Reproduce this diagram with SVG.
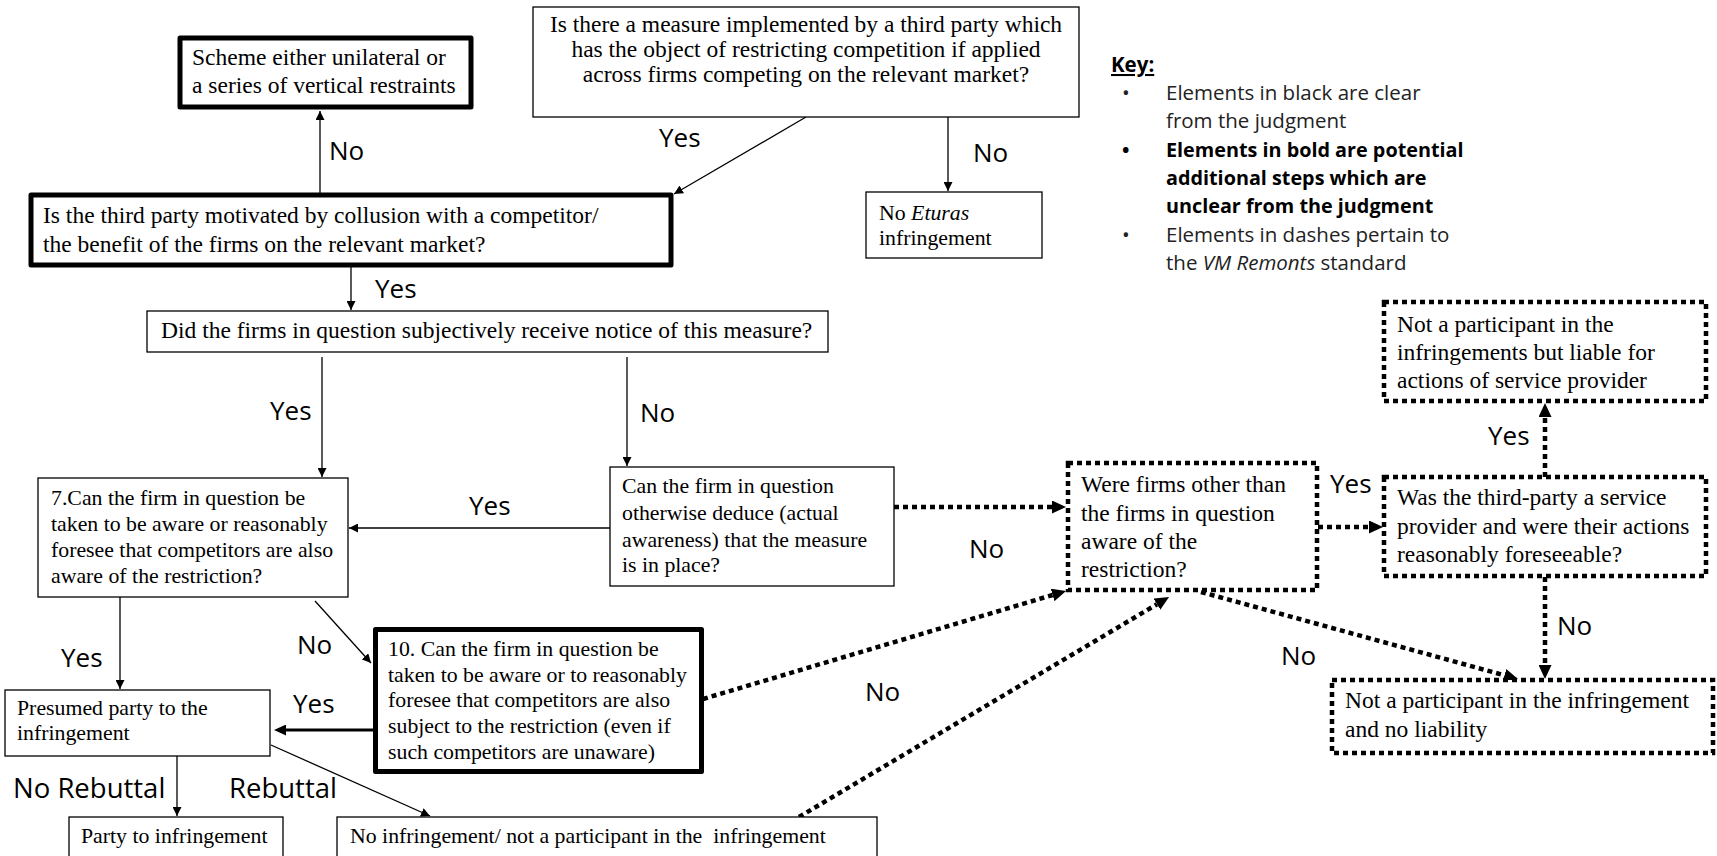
<svg xmlns="http://www.w3.org/2000/svg" width="1717" height="856" viewBox="0 0 1717 856">
  <style>
    .box { fill: #ffffff; stroke: #000; stroke-width: 1.3; }
    .bold { fill: #ffffff; stroke: #000; stroke-width: 5; stroke-linejoin: round; }
    .dash { fill: #ffffff; stroke: #000; stroke-width: 4.5; stroke-dasharray: 5 4; }
    .t { font-family: "Liberation Serif", "Times New Roman", serif; fill: #000; }
    .big { font-size: 23.5px; }
    .small { font-size: 21.8px; }
    .lbl { font-family: "Open Sans", "Liberation Sans", sans-serif; font-size: 26px; fill: #000; }
    .lbl2 { font-family: "Open Sans", "Liberation Sans", sans-serif; font-size: 27.5px; fill: #000; }
    .key { font-family: "Open Sans", "Liberation Sans", sans-serif; font-size: 20.5px; fill: #222; }
    .keyb { font-family: "Open Sans", "Liberation Sans", sans-serif; font-size: 19.8px; font-weight: bold; fill: #000; }
    .line { fill: none; stroke: #000; stroke-width: 1.3; }
    .thick { fill: none; stroke: #000; stroke-width: 3; }
    .dotted { fill: none; stroke: #000; stroke-width: 4.5; stroke-dasharray: 5 4; }
  </style>
  <defs>
    <marker id="ah" markerUnits="userSpaceOnUse" markerWidth="10" markerHeight="9" refX="9" refY="4.5" orient="auto">
      <path d="M0,0 L9,4.5 L0,9 z" fill="#000"/>
    </marker>
    <marker id="ahThick" markerUnits="userSpaceOnUse" markerWidth="12" markerHeight="11" refX="3" refY="5.5" orient="auto">
      <path d="M0,0 L12,5.5 L0,11 z" fill="#000"/>
    </marker>
    <marker id="ahDot" markerUnits="userSpaceOnUse" markerWidth="15" markerHeight="13" refX="0" refY="6.5" orient="auto">
      <path d="M0,0 L14,6.5 L0,13 z" fill="#000"/>
    </marker>
  </defs>

  <rect width="1717" height="856" fill="#ffffff"/>

  <!-- connectors -->
  <g id="connectors">
    <path class="line" d="M320,193 L320,111" marker-end="url(#ah)"/>
    <path class="line" d="M806,117 L674,194" marker-end="url(#ah)"/>
    <path class="line" d="M948,117 L948,191" marker-end="url(#ah)"/>
    <path class="line" d="M351,267 L351,310" marker-end="url(#ah)"/>
    <path class="line" d="M322,357 L322,477" marker-end="url(#ah)"/>
    <path class="line" d="M627,357 L627,466" marker-end="url(#ah)"/>
    <path class="line" d="M610,528 L349,528" marker-end="url(#ah)"/>
    <path class="line" d="M120,597 L120,689" marker-end="url(#ah)"/>
    <path class="line" d="M315,601 L371,663" marker-end="url(#ah)"/>
    <path class="thick" d="M373,730 L283,730" marker-end="url(#ahThick)"/>
    <path class="line" d="M177,756 L177,816" marker-end="url(#ah)"/>
    <path class="line" d="M271,745 L430,816" marker-end="url(#ah)"/>

    <!-- dashed (VM Remonts) connectors -->
    <path class="dotted" d="M894,507 L1052,507" marker-end="url(#ahDot)"/>
    <path class="dotted" d="M703,699 L1052.6,595" marker-end="url(#ahDot)"/>
    <path class="dotted" d="M799,817 L1157,604.2" marker-end="url(#ahDot)"/>
    <path class="dotted" d="M1201,592 L1504.5,675.3" marker-end="url(#ahDot)"/>
    <path class="dotted" d="M1318,527 L1369,527" marker-end="url(#ahDot)"/>
    <path class="dotted" d="M1545,477 L1545,417" marker-end="url(#ahDot)"/>
    <path class="dotted" d="M1545,577 L1545,665" marker-end="url(#ahDot)"/>

    <!-- branch labels -->
    <text class="lbl" x="329" y="160">No</text>
    <text class="lbl" x="659" y="147">Yes</text>
    <text class="lbl" x="973" y="162">No</text>
    <text class="lbl" x="375" y="298">Yes</text>
    <text class="lbl" x="270" y="420">Yes</text>
    <text class="lbl" x="640" y="422">No</text>
    <text class="lbl" x="469" y="515">Yes</text>
    <text class="lbl" x="969" y="558">No</text>
    <text class="lbl" x="61" y="667">Yes</text>
    <text class="lbl" x="297" y="654">No</text>
    <text class="lbl" x="293" y="713">Yes</text>
    <text class="lbl2" x="13" y="798">No Rebuttal</text>
    <text class="lbl2" x="229" y="798">Rebuttal</text>
    <text class="lbl" x="865" y="701">No</text>
    <text class="lbl" x="1330" y="493">Yes</text>
    <text class="lbl" x="1488" y="445">Yes</text>
    <text class="lbl" x="1557" y="635">No</text>
    <text class="lbl" x="1281" y="665">No</text>
  </g>

  <!-- nodes -->
  <g id="n-measure">
    <rect class="box" x="533" y="7" width="546" height="110"/>
    <text class="t big" x="806" y="32" text-anchor="middle">Is there a measure implemented by a third party which</text>
    <text class="t big" x="806" y="57" text-anchor="middle">has the object of restricting competition if applied</text>
    <text class="t big" x="806" y="82" text-anchor="middle">across firms competing on the relevant market?</text>
  </g>

  <g id="n-scheme">
    <rect class="bold" x="180" y="38" width="291" height="69"/>
    <text class="t big" x="192" y="65">Scheme either unilateral or</text>
    <text class="t big" x="192" y="93">a series of vertical restraints</text>
  </g>

  <g id="n-motivated">
    <rect class="bold" x="31" y="195" width="640" height="70"/>
    <text class="t big" x="43" y="223">Is the third party motivated by collusion with a competitor/</text>
    <text class="t big" x="43" y="252">the benefit of the firms on the relevant market?</text>
  </g>

  <g id="n-no-eturas">
    <rect class="box" x="866" y="192" width="176" height="66"/>
    <text class="t small" x="879" y="220">No <tspan font-style="italic">Eturas</tspan></text>
    <text class="t small" x="879" y="245">infringement</text>
  </g>

  <g id="n-notice">
    <rect class="box" x="147" y="311" width="681" height="41"/>
    <text class="t big" x="161" y="338">Did the firms in question subjectively receive notice of this measure?</text>
  </g>

  <g id="n-q7">
    <rect class="box" x="38" y="478" width="310" height="119"/>
    <text class="t small" x="51" y="505">7.Can the firm in question be</text>
    <text class="t small" x="51" y="531">taken to be aware or reasonably</text>
    <text class="t small" x="51" y="557">foresee that competitors are also</text>
    <text class="t small" x="51" y="583">aware of the restriction?</text>
  </g>

  <g id="n-deduce">
    <rect class="box" x="610" y="467" width="284" height="119"/>
    <text class="t small" x="622" y="493">Can the firm in question</text>
    <text class="t small" x="622" y="520">otherwise deduce (actual</text>
    <text class="t small" x="622" y="547">awareness) that the measure</text>
    <text class="t small" x="622" y="572">is in place?</text>
  </g>

  <g id="n-q10">
    <rect class="bold" x="375.5" y="629.5" width="326" height="142"/>
    <text class="t small" x="388" y="656">10. Can the firm in question be</text>
    <text class="t small" x="388" y="682">taken to be aware or to reasonably</text>
    <text class="t small" x="388" y="707">foresee that competitors are also</text>
    <text class="t small" x="388" y="733">subject to the restriction (even if</text>
    <text class="t small" x="388" y="759">such competitors are unaware)</text>
  </g>

  <g id="n-presumed">
    <rect class="box" x="5" y="690" width="265" height="66"/>
    <text class="t small" x="17" y="715">Presumed party to the</text>
    <text class="t small" x="17" y="740">infringement</text>
  </g>

  <g id="n-party">
    <rect class="box" x="69" y="817" width="214" height="60"/>
    <text class="t small" x="81" y="843">Party to infringement</text>
  </g>

  <g id="n-no-infringement">
    <rect class="box" x="337" y="817" width="540" height="60"/>
    <text class="t small" x="350" y="843" xml:space="preserve" style="white-space:pre">No infringement/ not a participant in the  infringement</text>
  </g>

  <g id="n-others-aware">
    <rect class="dash" x="1068" y="463" width="249" height="127"/>
    <text class="t big" x="1081" y="492">Were firms other than</text>
    <text class="t big" x="1081" y="521">the firms in question</text>
    <text class="t big" x="1081" y="549">aware of the</text>
    <text class="t big" x="1081" y="577">restriction?</text>
  </g>

  <g id="n-liable">
    <rect class="dash" x="1384" y="302" width="322" height="99"/>
    <text class="t big" x="1397" y="332">Not a participant in the</text>
    <text class="t big" x="1397" y="360">infringements but liable for</text>
    <text class="t big" x="1397" y="388">actions of service provider</text>
  </g>

  <g id="n-service-provider">
    <rect class="dash" x="1384" y="477" width="322" height="99"/>
    <text class="t big" x="1397" y="505">Was the third-party a service</text>
    <text class="t big" x="1397" y="534">provider and were their actions</text>
    <text class="t big" x="1397" y="562">reasonably foreseeable?</text>
  </g>

  <g id="n-no-liability">
    <rect class="dash" x="1332" y="680" width="381" height="73"/>
    <text class="t big" x="1345" y="708">Not a participant in the infringement</text>
    <text class="t big" x="1345" y="737">and no liability</text>
  </g>

  <!-- legend -->
  <g id="key">
    <text class="key" x="1111" y="72" font-weight="bold" style="fill:#000" text-decoration="underline">Key:</text>
    <text class="key" x="1122" y="100">•</text>
    <text class="key" x="1166" y="100">Elements in black are clear</text>
    <text class="key" x="1166" y="128">from the judgment</text>
    <text class="keyb" x="1122" y="157">•</text>
    <text class="keyb" x="1166" y="157">Elements in bold are potential</text>
    <text class="keyb" x="1166" y="185">additional steps which are</text>
    <text class="keyb" x="1166" y="213">unclear from the judgment</text>
    <text class="key" x="1122" y="242">•</text>
    <text class="key" x="1166" y="242">Elements in dashes pertain to</text>
    <text class="key" x="1166" y="270">the <tspan font-style="italic">VM Remonts</tspan> standard</text>
  </g>
</svg>
